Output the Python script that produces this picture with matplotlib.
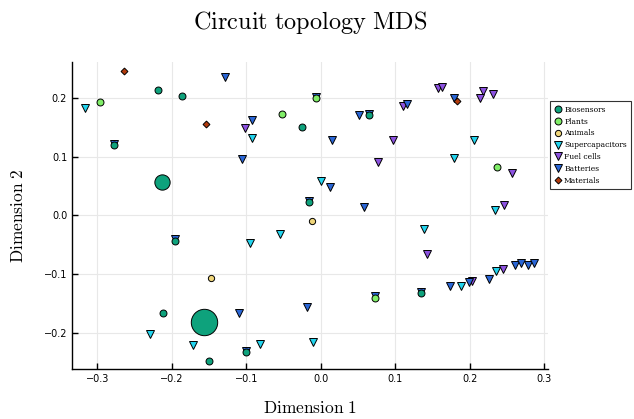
import matplotlib
matplotlib.use("Agg")
import matplotlib.pyplot as plt

plt.rcParams['mathtext.fontset'] = 'cm'
plt.rcParams['axes.unicode_minus'] = True

# MDS coordinates, per group
bio_x = [-0.218, -0.186, -0.277, -0.025, -0.016, 0.064, -0.196, -0.212, -0.150, -0.100, 0.134]
bio_y = [0.214, 0.203, 0.119, 0.150, 0.022, 0.171, -0.043, -0.167, -0.248, -0.233, -0.133]
bio_big_x = [-0.213, -0.157]
bio_big_y = [0.056, -0.182]
bio_big_s = [11, 19]

plant_x = [-0.296, -0.052, -0.007, 0.237, 0.072]
plant_y = [0.193, 0.173, 0.199, 0.083, -0.141]

animal_x = [-0.012, -0.148]
animal_y = [-0.010, -0.106]

sc_x = [-0.316, -0.093, 0.206, 0.178, 0.000, 0.234, 0.138, 0.188, 0.235, -0.095, -0.055,
        -0.230, -0.172, -0.082, -0.011]
sc_y = [0.183, 0.131, 0.129, 0.098, 0.058, 0.009, -0.023, -0.120, -0.095, -0.047, -0.032,
        -0.203, -0.221, -0.220, -0.216]

fc_x = [-0.102, 0.097, 0.110, 0.076, 0.157, 0.162, 0.217, 0.214, 0.231, 0.257, 0.246,
        0.142, 0.203, 0.245]
fc_y = [0.149, 0.128, 0.186, 0.091, 0.216, 0.219, 0.212, 0.199, 0.206, 0.072, 0.017,
        -0.066, -0.112, -0.091]

bat_x = [-0.129, -0.093, -0.106, -0.277, -0.016, -0.007, 0.051, 0.064, 0.015, 0.115, 0.179,
         0.012, 0.058, -0.196, -0.110, -0.019, -0.100, 0.072, 0.134, 0.173, 0.199, 0.225,
         0.261, 0.268, 0.278, 0.286]
bat_y = [0.235, 0.162, 0.096, 0.121, 0.025, 0.201, 0.171, 0.173, 0.128, 0.189, 0.199,
         0.048, 0.014, -0.041, -0.167, -0.157, -0.231, -0.138, -0.131, -0.120, -0.114, -0.109,
         -0.084, -0.081, -0.084, -0.081]

mat_x = [-0.264, -0.154, 0.183]
mat_y = [0.245, 0.156, 0.195]

c_bio = '#0ea27c'
c_plant = '#80ee68'
c_animal = '#f0d67a'
c_sc = '#22d4ee'
c_fc = '#8c52e0'
c_bat = '#2a66d6'
c_mat = '#b23a0c'

fig = plt.figure(figsize=(6.34, 4.19), dpi=100)
ax = fig.add_axes([0.1136, 0.119, 0.751, 0.733])

ec = dict(markeredgecolor='black', markeredgewidth=0.7, linestyle='none')
ax.plot(bio_x, bio_y, 'o', color=c_bio, ms=5, label='Biosensors', zorder=5, **ec)
for x, y, s in zip(bio_big_x, bio_big_y, bio_big_s):
    ax.plot([x], [y], 'o', color=c_bio, ms=s, zorder=5, **ec)
ax.plot(plant_x, plant_y, 'o', color=c_plant, ms=5, label='Plants', zorder=5, **ec)
ax.plot(animal_x, animal_y, 'o', color=c_animal, ms=4.5, label='Animals', zorder=5, **ec)
ax.plot(sc_x, sc_y, 'v', color=c_sc, ms=6, label='Supercapacitors', zorder=3, **ec)
ax.plot(fc_x, fc_y, 'v', color=c_fc, ms=6, label='Fuel cells', zorder=3, **ec)
ax.plot(bat_x, bat_y, 'v', color=c_bat, ms=6, label='Batteries', zorder=3, **ec)
ax.plot(mat_x, mat_y, 'D', color=c_mat, ms=3.5, label='Materials', zorder=6, **ec)

ax.set_xlim(-0.334, 0.305)
ax.set_ylim(-0.262, 0.261)
ax.set_xticks([-0.3, -0.2, -0.1, 0.0, 0.1, 0.2, 0.3])
ax.set_yticks([-0.2, -0.1, 0.0, 0.1, 0.2])
ax.set_xticklabels(['\u22120.3', '\u22120.2', '\u22120.1', '0.0', '0.1', '0.2', '0.3'])
ax.set_yticklabels(['\u22120.2', '\u22120.1', '0.0', '0.1', '0.2'])
ax.tick_params(direction='in', labelsize=7, length=4, width=1)
ax.grid(True, color='#e8e8e8', linewidth=0.8)
ax.set_axisbelow(True)
ax.spines['top'].set_visible(False)
ax.spines['right'].set_visible(False)
for s in ['left', 'bottom']:
    ax.spines[s].set_linewidth(1.0)

ax.set_title(r'$\mathrm{Circuit\ topology\ MDS}$', fontsize=17.5, pad=24)
ax.set_xlabel(r'$\mathrm{Dimension\ 1}$', fontsize=12.5, labelpad=11)
ax.set_ylabel(r'$\mathrm{Dimension\ 2}$', fontsize=12.5, labelpad=12)

leg = ax.legend(loc='upper left', bbox_to_anchor=(0.995, 0.885),
                prop={'family': 'serif', 'size': 5.5}, frameon=True, fancybox=False,
                edgecolor='black', borderpad=0.6, handletextpad=0.3, labelspacing=0.5,
                handlelength=1.0, markerscale=1.0)
leg.get_frame().set_linewidth(0.8)

fig.savefig('out.png', dpi=100)
